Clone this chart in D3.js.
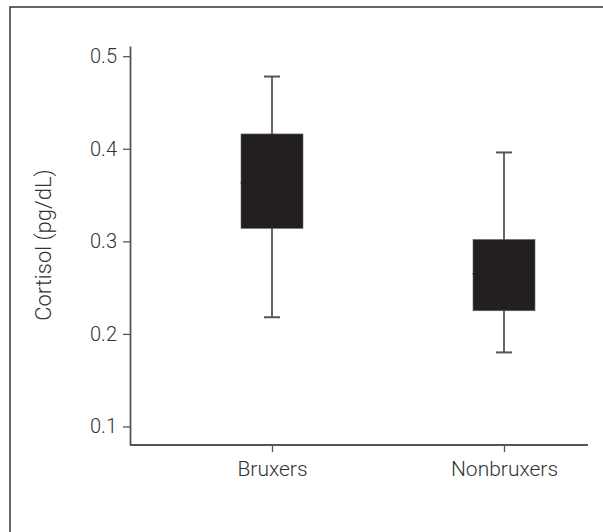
<!DOCTYPE html>
<html>
<head>
<meta charset="utf-8">
<script src="https://cdn.jsdelivr.net/npm/d3@7"></script>
<style>
  body { margin: 0; background: #fff; }
  svg text { font-family: Roboto, "Liberation Sans", Arial, sans-serif; font-weight: 300; fill: #333; }
</style>
</head>
<body>
<svg id="chart" width="603" height="532"></svg>
<script>
// box plot values
const groups = ["Bruxers", "Nonbruxers"];
const whiskerLow = [0.218, 0.180];
const q1 = [0.314, 0.225];
const median = [0.363, 0.265];
const q3 = [0.416, 0.302];
const whiskerHigh = [0.478, 0.396];
const yTicks = [0.1, 0.2, 0.3, 0.4, 0.5];

const svg = d3.select("#chart");

// outer frame, cut off at the right and bottom like the scan
svg.append("rect")
  .attr("x", 10).attr("y", 7)
  .attr("width", 700).attr("height", 700)
  .attr("fill", "none")
  .attr("stroke", "#333")
  .attr("stroke-width", 1.5);

const axisLeftX = 130, axisBottomY = 445, axisRightX = 588;

const y = d3.scaleLinear().domain([0.08, 0.511]).range([axisBottomY, 46]);
const x = d3.scalePoint().domain(groups).range([272, 504]);

const yAxis = svg.append("g")
  .attr("transform", `translate(${axisLeftX},0)`)
  .call(d3.axisLeft(y).tickValues(yTicks).tickFormat(d3.format(".1f"))
    .tickSize(7).tickSizeOuter(0).tickPadding(6));
yAxis.select(".domain").attr("stroke", "#555").attr("stroke-width", 1.8);
yAxis.selectAll(".tick line").attr("stroke", "#555").attr("stroke-width", 1.3);
yAxis.selectAll("text").style("font-size", "20px").attr("fill", "#333");

const xAxis = svg.append("g")
  .attr("transform", `translate(0,${axisBottomY})`)
  .call(d3.axisBottom(x).tickSize(7).tickSizeOuter(0).tickPadding(9));
xAxis.select(".domain").remove();
xAxis.append("line")
  .attr("x1", axisLeftX).attr("x2", axisRightX)
  .attr("stroke", "#555").attr("stroke-width", 1.8);
xAxis.selectAll(".tick line").attr("stroke", "#555").attr("stroke-width", 1.3);
xAxis.selectAll("text").style("font-size", "21px").attr("fill", "#333");

svg.append("text")
  .attr("transform", `translate(51,245) rotate(-90)`)
  .attr("text-anchor", "middle")
  .style("font-size", "22px")
  .text("Cortisol (pg/dL)");

const boxW = 62, capW = 16;
const boxes = svg.append("g").selectAll("g")
  .data(groups.map((g, i) => ({
    g, lo: whiskerLow[i], q1: q1[i], med: median[i], q3: q3[i], hi: whiskerHigh[i]
  })))
  .join("g");

boxes.append("line")
  .attr("x1", d => x(d.g)).attr("x2", d => x(d.g))
  .attr("y1", d => y(d.lo)).attr("y2", d => y(d.hi))
  .attr("stroke", "#333").attr("stroke-width", 1.5);

boxes.selectAll(".cap")
  .data(d => [d.lo, d.hi].map(v => ({ g: d.g, v })))
  .join("line")
  .attr("class", "cap")
  .attr("x1", d => x(d.g) - capW / 2).attr("x2", d => x(d.g) + capW / 2)
  .attr("y1", d => y(d.v)).attr("y2", d => y(d.v))
  .attr("stroke", "#555").attr("stroke-width", 2);

boxes.append("rect")
  .attr("x", d => x(d.g) - boxW / 2)
  .attr("y", d => y(d.q3))
  .attr("width", boxW)
  .attr("height", d => y(d.q1) - y(d.q3))
  .attr("fill", "#231f20")
  .attr("stroke", "#666").attr("stroke-width", 0.6);

boxes.append("line")
  .attr("x1", d => x(d.g) - boxW / 2 - 0.5).attr("x2", d => x(d.g) + boxW / 2)
  .attr("y1", d => y(d.med)).attr("y2", d => y(d.med))
  .attr("stroke", "#231f20").attr("stroke-width", 1);
</script>
</body>
</html>
